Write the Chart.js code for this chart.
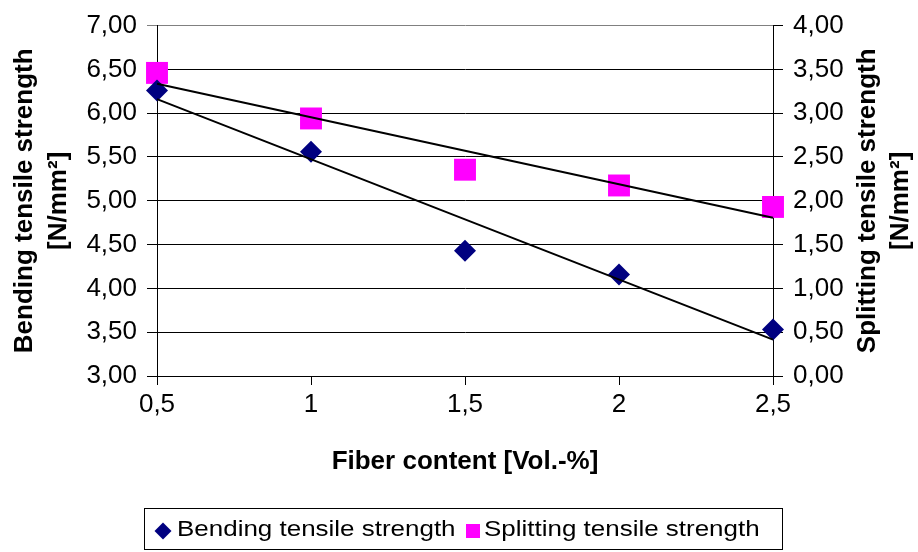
<!DOCTYPE html>
<html>
<head>
<meta charset="utf-8">
<script src="https://cdn.jsdelivr.net/npm/chart.js@4/dist/chart.umd.min.js"></script>
<style>
  body { margin: 0; background: #fff; }
  #wrap { position: relative; width: 918px; height: 552px; font-family: "Liberation Sans", Arial, sans-serif; }
  #legend { position: absolute; left: 144px; top: 508px; width: 639px; height: 42px; border: 1px solid #000; box-sizing: border-box; }
  #legend .txt { position: absolute; top: 8px; font-size: 22px; line-height: 24px; color: #000; white-space: nowrap; transform: scaleX(1.18); transform-origin: left center; }
  #legend .dia { position: absolute; width: 12px; height: 12px; background: #000080; transform: rotate(45deg); }
  #legend .sq { position: absolute; width: 14px; height: 14px; background: #ff00ff; }
</style>
</head>
<body>
<div id="wrap">
  <canvas id="chart" width="918" height="552"></canvas>
  <div id="legend">
    <div class="dia" style="left:12px; top:16px"></div>
    <span class="txt" style="left:32px">Bending tensile strength</span>
    <div class="sq" style="left:321px; top:15px"></div>
    <span class="txt" style="left:339px">Splitting tensile strength</span>
  </div>
</div>
<script>
const fiberContent = [0.5, 1, 1.5, 2, 2.5];
const bendingStrength = [6.26, 5.56, 4.43, 4.16, 3.53];
const splittingStrength = [3.46, 2.94, 2.355, 2.175, 1.93];

const fiberTicks = [0.5, 1, 1.5, 2, 2.5];
const bendingTicks = [3, 3.5, 4, 4.5, 5, 5.5, 6, 6.5, 7];
const splittingTicks = [0, 0.5, 1, 1.5, 2, 2.5, 3, 3.5, 4];

const comma = (v, d) => v.toFixed(d).replace('.', ',');

// least squares line, like the Excel trendline
function trend(xs, ys) {
  const n = xs.length;
  const mx = xs.reduce((a, b) => a + b, 0) / n;
  const my = ys.reduce((a, b) => a + b, 0) / n;
  let sxy = 0, sxx = 0;
  for (let i = 0; i < n; i++) {
    sxy += (xs[i] - mx) * (ys[i] - my);
    sxx += (xs[i] - mx) * (xs[i] - mx);
  }
  const k = sxy / sxx;
  const x0 = xs[0], x1 = xs[n - 1];
  return [{ x: x0, y: my + k * (x0 - mx) }, { x: x1, y: my + k * (x1 - mx) }];
}

const pts = ys => fiberContent.map((x, i) => ({ x: x, y: ys[i] }));

const rightTitle = {
  id: 'rightTitle',
  afterDraw(chart) {
    const c = chart.ctx, a = chart.chartArea;
    const cy = (a.top + a.bottom) / 2;
    c.save();
    c.fillStyle = '#000';
    c.font = 'bold 26px "Liberation Sans", Arial, sans-serif';
    c.textAlign = 'center';
    c.textBaseline = 'middle';
    [['Splitting tensile strength', 868], ['[N/mm²]', 901]].forEach(([t, x]) => {
      c.save();
      c.translate(x, cy);
      c.rotate(-Math.PI / 2);
      c.fillText(t, 0, 0);
      c.restore();
    });
    c.restore();
  }
};

const tickFont = { family: '"Liberation Sans", Arial, sans-serif', size: 26 };
const titleFont = { family: '"Liberation Sans", Arial, sans-serif', size: 26, weight: 'bold' };

new Chart(document.getElementById('chart'), {
  type: 'scatter',
  data: {
    datasets: [
      {
        label: 'Bending trend',
        data: trend(fiberContent, bendingStrength),
        yAxisID: 'y',
        showLine: true,
        borderColor: '#000',
        borderWidth: 2,
        pointRadius: 0,
        clip: false,
        order: 0
      },
      {
        label: 'Splitting trend',
        data: trend(fiberContent, splittingStrength),
        yAxisID: 'y1',
        showLine: true,
        borderColor: '#000',
        borderWidth: 2,
        pointRadius: 0,
        clip: false,
        order: 0
      },
      {
        label: 'Bending tensile strength',
        data: pts(bendingStrength),
        yAxisID: 'y',
        pointStyle: 'rectRot',
        pointRadius: 11,
        backgroundColor: '#000080',
        borderColor: '#000080',
        borderWidth: 0,
        clip: false,
        order: 1
      },
      {
        label: 'Splitting tensile strength',
        data: pts(splittingStrength),
        yAxisID: 'y1',
        pointStyle: 'rect',
        pointRadius: 15.5,
        backgroundColor: '#ff00ff',
        borderColor: '#ff00ff',
        borderWidth: 0,
        clip: false,
        order: 1
      }
    ]
  },
  options: {
    responsive: false,
    devicePixelRatio: 1,
    animation: false,
    events: [],
    layout: { padding: { top: 21, bottom: 75, left: 0, right: 0 } },
    plugins: { legend: { display: false }, tooltip: { enabled: false } },
    scales: {
      x: {
        type: 'linear',
        min: 0.5, max: 2.5,
        afterBuildTicks: s => { s.ticks = fiberTicks.map(v => ({ value: v })); },
        afterFit: s => { s.height = 101; },
        ticks: { font: tickFont, color: '#000', padding: 4, maxRotation: 0, callback: v => String(v).replace('.', ',') },
        grid: { drawOnChartArea: false, drawTicks: true, tickLength: 9, color: '#000' },
        border: { color: '#000', width: 1 },
        title: { display: true, text: 'Fiber content [Vol.-%]', font: titleFont, color: '#000', padding: 0 }
      },
      y: {
        position: 'left',
        min: 3, max: 7,
        afterBuildTicks: s => { s.ticks = bendingTicks.map(v => ({ value: v })); },
        afterFit: s => { s.width = 157; },
        ticks: { font: tickFont, color: '#000', padding: 10, callback: v => comma(v, 2) },
        grid: { tickLength: 10, color: c => (c.tick && c.tick.value === 7 ? '#808080' : '#000'), lineWidth: 1 },
        border: { color: '#000', width: 1 },
        title: {
          display: true,
          text: ['Bending tensile strength', '[N/mm²]'],
          font: Object.assign({ lineHeight: 1.3 }, titleFont),
          color: '#000',
          padding: { top: 8, bottom: 0 }
        }
      },
      y1: {
        position: 'right',
        min: 0, max: 4,
        afterBuildTicks: s => { s.ticks = splittingTicks.map(v => ({ value: v })); },
        afterFit: s => { s.width = 145; },
        ticks: { font: tickFont, color: '#000', padding: 10, callback: v => comma(v, 2) },
        grid: { drawOnChartArea: false, tickLength: 10, color: '#000' },
        border: { color: '#000', width: 1 }
      }
    }
  },
  plugins: [rightTitle]
});
</script>
</body>
</html>
